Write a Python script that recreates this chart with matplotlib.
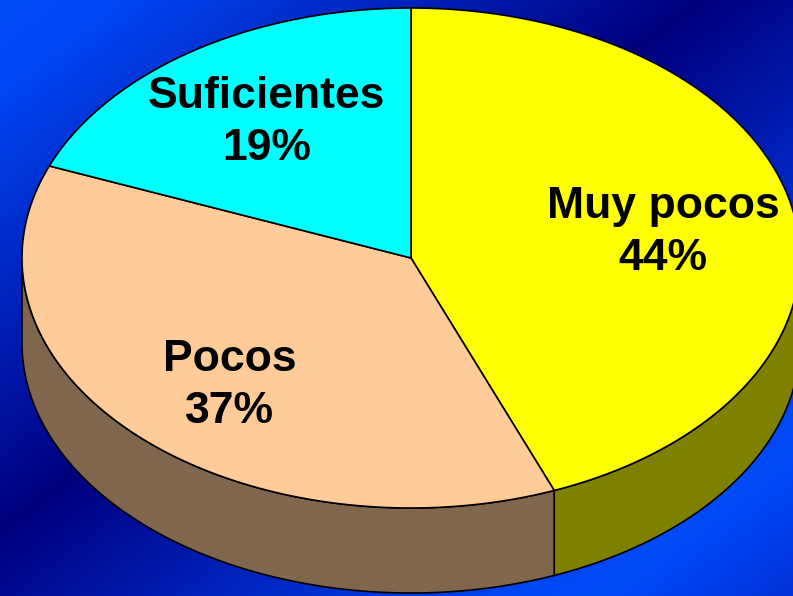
import numpy as np
import matplotlib.pyplot as plt
from matplotlib.patches import Polygon
from matplotlib.colors import LinearSegmentedColormap

labels = ['Muy pocos', 'Pocos', 'Suficientes']
values = [44, 37, 19]
top_colors = ['#FFFF00', '#FFCC99', '#00FFFF']
side_colors = ['#808000', '#80664D', '#008080']

W, H = 793, 596
cx, cy = 411, 258      # centro de la elipse superior (px)
rx, ry = 389, 250
depth = 85

fig = plt.figure(figsize=(W / 100, H / 100), dpi=100)
ax = fig.add_axes([0, 0, 1, 1])
ax.set_xlim(0, W)
ax.set_ylim(H, 0)
ax.axis('off')

# fondo degradado diagonal (oscuro en la diagonal, claro en las esquinas sup-izq / inf-der)
xx, yy = np.meshgrid(np.arange(W), np.arange(H))
d = np.abs(xx / 700 + yy / 530 - 1)
bg = LinearSegmentedColormap.from_list(
    'bg', [(0, '#00007E'), (0.36, '#0026C2'), (0.64, '#0046F2'), (0.76, '#004AF8'), (1, '#002CD2')])
ax.imshow(d, cmap=bg, extent=[0, W, H, 0], aspect='auto', vmin=0, vmax=1.3, zorder=0)


def pt(a, dz=0.0):
    r = np.radians(a)
    return cx + rx * np.cos(r), cy - ry * np.sin(r) + dz


# angulos: empieza a las 12 y va en sentido horario
fr = np.array(values) / sum(values)
ends = 90 - 360 * np.cumsum(fr)
starts = np.concatenate([[90], ends[:-1]])

# paredes laterales (solo la mitad frontal, 180..360)
for s, e, c in zip(starts, ends, side_colors):
    a_hi, a_lo = s % 360, e % 360
    if a_hi <= a_lo:
        a_hi += 360
    lo = max(a_lo, 180)
    hi = min(a_hi, 360)
    if hi <= lo:
        continue
    ang = np.linspace(lo, hi, 200)
    top = [pt(a) for a in ang]
    bot = [pt(a, depth) for a in ang[::-1]]
    ax.add_patch(Polygon(top + bot, closed=True, facecolor=c, edgecolor='black', lw=1.2, zorder=2))

# caras superiores
for s, e, c in zip(starts, ends, top_colors):
    ang = np.linspace(s, e, 300)
    verts = [(cx, cy)] + [pt(a) for a in ang]
    ax.add_patch(Polygon(verts, closed=True, facecolor=c, edgecolor='black', lw=1.2, zorder=3))

# etiquetas
for s, e, lab, v in zip(starts, ends, labels, values):
    m = np.radians((s + e) / 2)
    x = cx + 0.66 * rx * np.cos(m)
    y = cy - 0.685 * ry * np.sin(m) + 6.5
    ax.text(x, y, f'{lab}\n{v}%', ha='center', va='center', fontsize=32, fontweight='bold',
            family='Liberation Sans', linespacing=1.34, zorder=4)

fig.savefig('out.png', dpi=100)
